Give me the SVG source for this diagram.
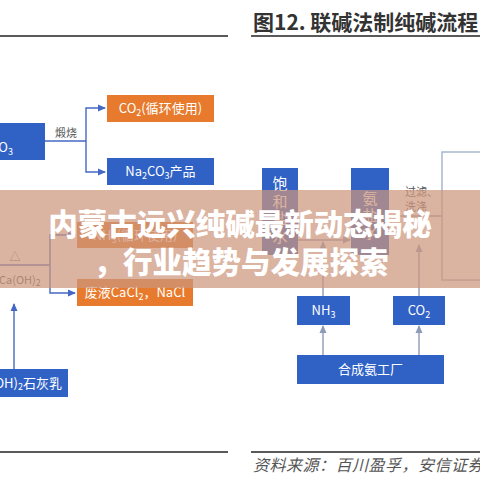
<svg xmlns="http://www.w3.org/2000/svg" width="480" height="480" viewBox="0 0 480 480">
<style>
.bl{fill:#3062c6}
.or{fill:#e77a2c}
.bt{font-family:"Noto Sans CJK SC","Liberation Sans",sans-serif;font-size:13px;fill:#fff;text-anchor:middle}
.lb{font-family:"Noto Sans CJK SC","Liberation Sans",sans-serif;font-size:11px;fill:#555}
.cl{stroke:#4468c4;stroke-width:1.4;fill:none}
.cg{stroke:#8d9bb8;stroke-width:1.4;fill:none}
.vt{font-family:"Noto Sans CJK SC",sans-serif;font-size:15px;fill:#fff;text-anchor:middle}
</style>
<defs>
<marker id="ab" markerWidth="8" markerHeight="8" refX="7" refY="4" orient="auto" markerUnits="userSpaceOnUse"><path d="M0,0.5 L8,4 L0,7.5z" fill="#4468c4"/></marker>
<marker id="ag" markerWidth="8" markerHeight="8" refX="7" refY="4" orient="auto" markerUnits="userSpaceOnUse"><path d="M0,0.5 L8,4 L0,7.5z" fill="#8d9bb8"/></marker>
</defs>
<rect width="480" height="480" fill="#fff"/>
<!-- frame lines -->
<line x1="0" y1="36" x2="228" y2="36" stroke="#222" stroke-width="1.5"/>
<line x1="251" y1="36" x2="480" y2="36" stroke="#222" stroke-width="1.5"/>
<line x1="0" y1="452" x2="228" y2="452" stroke="#222" stroke-width="1.5"/>
<line x1="251" y1="452" x2="480" y2="452" stroke="#222" stroke-width="1.5"/>
<text x="253" y="30" font-family="Noto Sans CJK SC,sans-serif" font-size="21" font-weight="bold" fill="#333">图12. 联碱法制纯碱流程</text>
<text x="253" y="471" font-family="Noto Sans CJK SC,sans-serif" font-size="16" font-style="italic" letter-spacing="0.5" fill="#555">资料来源：百川盈孚，安信证券</text>

<g id="connectors">
<polyline class="cl" points="45,141 86,141"/>
<polyline class="cl" points="86,141 86,108 105,108" marker-end="url(#ab)"/>
<polyline class="cl" points="86,141 86,172 105,172" marker-end="url(#ab)"/>
<polyline class="cl" points="0,265 50,265"/>
<polyline class="cl" points="50,265 50,235 75,235" marker-end="url(#ab)"/>
<polyline class="cl" points="50,265 50,293 75,293" marker-end="url(#ab)"/>
<line class="cl" x1="14" y1="369" x2="14" y2="304" marker-end="url(#ab)"/>
<line class="cg" x1="298" y1="240" x2="350" y2="240" marker-end="url(#ag)"/>
<line class="cg" x1="323" y1="296" x2="323" y2="242" marker-end="url(#ag)"/>
<line class="cg" x1="389" y1="216" x2="442" y2="216"/>
<line class="cg" x1="419" y1="296" x2="419" y2="245" marker-end="url(#ag)"/>
<line class="cg" x1="323" y1="355" x2="323" y2="326" marker-end="url(#ag)"/>
<line class="cg" x1="419" y1="355" x2="419" y2="326" marker-end="url(#ag)"/>
</g>
<text class="lb" x="66" y="137" text-anchor="middle">煅烧</text>
<text class="lb" x="15" y="261" text-anchor="middle">△</text>
<text class="lb" x="-1" y="284" font-size="12">Ca(OH)<tspan font-size="9" dy="2">2</tspan></text>
<text class="lb" x="405" y="196">过滤、</text>
<text class="lb" x="405" y="211">洗涤</text>

<g id="nahco3"><rect class="bl" x="-2" y="123" width="47" height="37"/><text class="bt" x="13" y="152" style="text-anchor:end">NaHCO<tspan font-size="9" dy="3">3</tspan></text></g>
<g id="co2-recycle"><rect class="or" x="107" y="95" width="107" height="27"/><text class="bt" x="160.5" y="113">CO<tspan font-size="9" dy="3">2</tspan><tspan dy="-3">(循环使用)</tspan></text></g>
<g id="na2co3"><rect class="bl" x="107" y="158" width="107" height="27"/><text class="bt" x="160.5" y="176">Na<tspan font-size="9" dy="3">2</tspan><tspan dy="-3">CO</tspan><tspan font-size="9" dy="3">3</tspan><tspan dy="-3">产品</tspan></text></g>
<g id="nh3-recycle"><rect class="or" x="77" y="222" width="116" height="26"/><text class="bt" x="135" y="240">NH<tspan font-size="9" dy="3">3</tspan><tspan dy="-3">(循环使用)</tspan></text></g>
<g id="waste"><rect class="or" x="77" y="279" width="116" height="27"/><text class="bt" x="135" y="297">废液CaCl<tspan font-size="9" dy="3">2</tspan><tspan dy="-3">，NaCl</tspan></text></g>
<g id="lime"><rect class="bl" x="-2" y="369" width="70" height="28"/><text class="bt" x="62" y="388" style="text-anchor:end">Ca(OH)<tspan font-size="9" dy="2">2</tspan><tspan dy="-2">石灰乳</tspan></text></g>

<g id="brine"><rect class="bl" x="262" y="168" width="36" height="87"/>
<text class="vt" x="280" y="189">饱</text><text class="vt" x="280" y="206.5">和</text><text class="vt" x="280" y="224">盐</text><text class="vt" x="280" y="241.5">水</text></g>
<g id="ammonia-brine"><rect class="bl" x="351" y="168" width="38" height="87"/>
<text class="vt" x="370" y="204">氨</text><text class="vt" x="370" y="221">盐</text><text class="vt" x="370" y="238">水</text></g>
<g id="bigbox"><rect x="442" y="152" width="60" height="128" fill="none" stroke="#a8b6cc" stroke-width="1.5"/></g>
<g id="nh3"><rect class="bl" x="297" y="296" width="53" height="29"/><text class="bt" x="323.5" y="315">NH<tspan font-size="9" dy="3">3</tspan></text></g>
<g id="co2"><rect class="bl" x="393" y="296" width="52" height="29"/><text class="bt" x="419" y="315">CO<tspan font-size="9" dy="3">2</tspan></text></g>
<g id="plant"><rect class="bl" x="297" y="355" width="147" height="29"/><text class="bt" x="370.5" y="374">合成氨工厂</text></g>

<g id="banner">
<rect x="0" y="190" width="480" height="98" fill="rgb(205,150,125)" opacity="0.72"/>
<text x="240" y="235" text-anchor="middle" font-family="Noto Sans CJK SC,sans-serif" font-size="29.5" font-weight="900" fill="#fff">内蒙古远兴纯碱最新动态揭秘</text>
<text x="241" y="273" text-anchor="middle" font-family="Noto Sans CJK SC,sans-serif" font-size="29.5" font-weight="900" fill="#fff">，行业趋势与发展探索</text>
</g>
</svg>
